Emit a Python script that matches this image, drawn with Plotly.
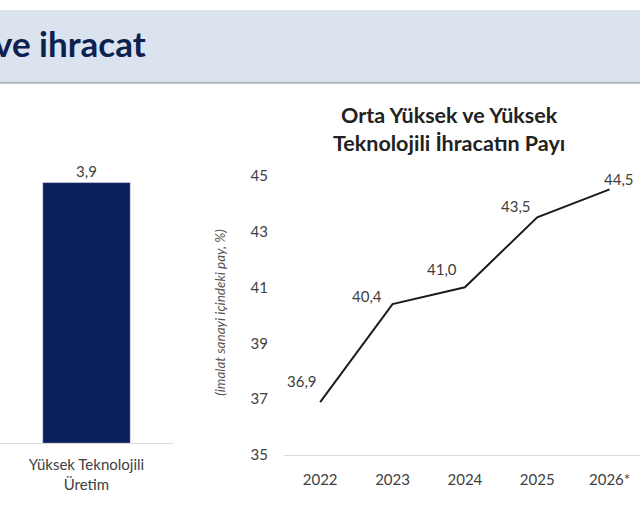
import plotly.graph_objects as go

# left panel (bar)
bar_cats = ['Yüksek Teknolojili<br>Üretim']
bar_vals = [3.9]
bar_text = ['3,9']

# right panel (line)
years = ['2022', '2023', '2024', '2025', '2026*']
share = [36.9, 40.4, 41.0, 43.5, 44.5]
share_text = ['36,9', '40,4', '41,0', '43,5', '44,5']
y_ticks = [35, 37, 39, 41, 43, 45]

W, H = 640, 531
font = 'Lato, Open Sans, sans-serif'
grey_txt = '#404040'
band = '#dbe3ef'

# label placement (px offsets from each point, right/bottom anchored)
lbl_dx = [-1, -9, -6, -4, 26]
lbl_dy = [10, -3, 7, 0, -1]


def py(px):
    # target pixel from top -> paper fraction (page is shown slightly squeezed)
    return 1 - ((px - 9) / 0.97) / H


fig = go.Figure()

fig.add_trace(go.Bar(
    x=bar_cats, y=bar_vals, text=bar_text, textposition='outside',
    textfont=dict(size=15, color=grey_txt, family=font),
    marker_color='#0b1f5c', width=0.506, cliponaxis=False,
    xaxis='x2', yaxis='y2', showlegend=False,
))

fig.add_trace(go.Scatter(
    x=years, y=share, mode='lines',
    line=dict(color='#1c1c1c', width=2), cliponaxis=False,
    showlegend=False,
))

annotations = [
    dict(text='<b>ve ihracat</b>', xref='paper', yref='paper', x=0, y=py(42),
         xanchor='left', yanchor='middle', xshift=-8, showarrow=False,
         font=dict(size=35, color='#0d2150', family=font)),
    dict(text='<b>Orta Yüksek ve Yüksek<br>Teknolojili İhracatın Payı</b>',
         xref='paper', yref='paper', x=449 / W, y=py(128),
         xanchor='center', yanchor='middle', showarrow=False,
         font=dict(size=21.5, color='#222222', family=font)),
    dict(text='<i>(imalat sanayi içindeki pay, %)</i>', xref='paper', yref='paper',
         x=220 / W, y=py(313), textangle=-90, showarrow=False,
         xanchor='center', yanchor='middle',
         font=dict(size=13.5, color='#555555', family=font)),
]
for i, (v, t, dx, dy) in enumerate(zip(share, share_text, lbl_dx, lbl_dy)):
    annotations.append(dict(
        x=i, y=v, xref='x', yref='y', text=t, showarrow=False,
        xanchor='right', yanchor='bottom', xshift=dx, yshift=dy,
        font=dict(size=15, color=grey_txt, family=font)))

fig.update_layout(
    width=W, height=H,
    margin=dict(l=0, r=0, t=0, b=0),
    paper_bgcolor='white', plot_bgcolor='white',
    font=dict(family=font, color=grey_txt),
    xaxis=dict(domain=[284 / W, 1.0], range=[-0.5, 4.42], showgrid=False,
               showline=True, linecolor='#d9d9d9', linewidth=1, ticks='',
               tickfont=dict(size=15, color=grey_txt), ticklabelstandoff=11,
               zeroline=False),
    yaxis=dict(domain=[py(456), py(175)], range=[35, 45], tickvals=y_ticks,
               showgrid=False, zeroline=False, showline=False, ticks='',
               tickfont=dict(size=15, color=grey_txt), ticklabelstandoff=15),
    xaxis2=dict(domain=[0, 173 / W], range=[-0.5, 0.5], anchor='y2',
                showgrid=False, showline=True, linecolor='#d9d9d9', linewidth=1,
                ticks='', tickfont=dict(size=15, color=grey_txt),
                ticklabelstandoff=8),
    yaxis2=dict(domain=[py(444), py(142)], range=[0, 4.5], anchor='x2',
                visible=False),
    shapes=[
        dict(type='rect', xref='paper', yref='paper', x0=0, x1=1,
             y0=py(81), y1=1, fillcolor=band, line_width=0, layer='below'),
        dict(type='line', xref='paper', yref='paper', x0=0, x1=1,
             y0=py(82), y1=py(82), line=dict(color='#aeb6c2', width=2)),
    ],
    annotations=annotations,
)

# no page margin; header band colour behind the top edge of the page
js = ("document.body.style.margin='0';"
      "document.documentElement.style.background="
      "'linear-gradient(" + band + " 0 40px, #ffffff 40px)';")
fig.write_html('out.html', config={'displayModeBar': False}, post_script=js)
